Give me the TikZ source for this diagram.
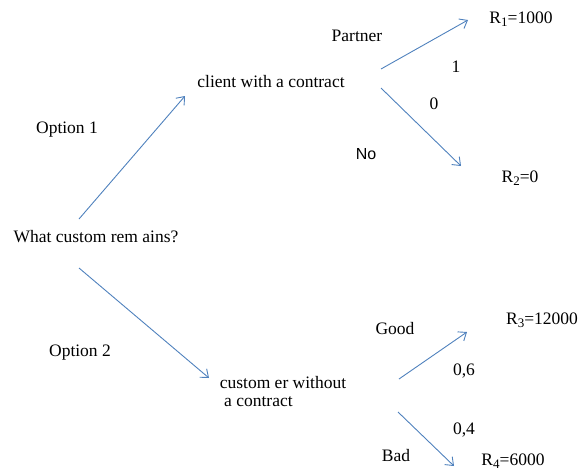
\documentclass[tikz,border=0pt]{standalone}
\usepackage{fontspec}
\setmainfont{Liberation Serif}
\setsansfont{Liberation Sans}
\usetikzlibrary{arrows.meta}
\definecolor{arrowblue}{RGB}{79,129,189}
\newcommand{\rsub}[1]{\raisebox{-2.5pt}{\fontsize{13}{13}\selectfont #1}}
\tikzset{
  lbl/.style={inner sep=0pt, font=\fontsize{17.5}{19}\selectfont, anchor=center},
  sanslbl/.style={inner sep=0pt, font=\fontsize{16}{18}\selectfont\sffamily, anchor=center},
  branch/.style={draw=arrowblue, line width=0.9pt, -{Straight Barb[length=7pt,width=11pt]}}
}
\begin{document}
\begin{tikzpicture}[x=1pt,y=-1pt]
\useasboundingbox (0,0) rectangle (579,472);
% nodes
\node[lbl] (root) at (96,237) {What custom rem ains?};
\node[lbl] (c1) at (271,82) {client with a contract};
\node[lbl] (c2) at (283,394) {\begin{tabular}{@{}l@{}}custom er without\\[-1pt] \ a contract\end{tabular}};
\node[lbl] (o1) at (67,130) {Option 1};
\node[lbl] (o2) at (80,353) {Option 2};
\node[lbl] (partner) at (357,36) {Partner};
\node[sanslbl] (no) at (366,154) {No};
\node[lbl] (good) at (395,329) {Good};
\node[lbl] (bad) at (396,456) {Bad};
\node[lbl] (p1) at (456,67) {1};
\node[lbl] (p0) at (434,104) {0};
\node[lbl] (p06) at (464,371) {0,6};
\node[lbl] (p04) at (464,430) {0,4};
\node[lbl] (r1) at (521,19) {R\rsub{1}=1000};
\node[lbl] (r2) at (520,178) {R\rsub{2}=0};
\node[lbl] (r3) at (542,320) {R\rsub{3}=12000};
\node[lbl] (r4) at (513,461) {R\rsub{4}=6000};
% arrow end points
\coordinate (a1s) at (79,219);  \coordinate (a1e) at (185,96);
\coordinate (a2s) at (79,268);  \coordinate (a2e) at (209,378);
\coordinate (a3s) at (381,69);  \coordinate (a3e) at (468,20);
\coordinate (a4s) at (381,88);  \coordinate (a4e) at (461,166);
\coordinate (a5s) at (399,379); \coordinate (a5e) at (467,332);
\coordinate (a6s) at (398,412); \coordinate (a6e) at (454,466);
% connectors
\draw[branch] (a1s) -- (a1e);
\draw[branch] (a2s) -- (a2e);
\draw[branch] (a3s) -- (a3e);
\draw[branch] (a4s) -- (a4e);
\draw[branch] (a5s) -- (a5e);
\draw[branch] (a6s) -- (a6e);
\end{tikzpicture}
\end{document}
